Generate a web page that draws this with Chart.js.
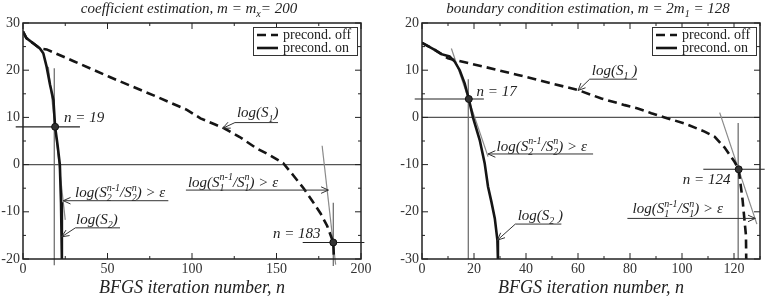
<!DOCTYPE html>
<html>
<head>
<meta charset="utf-8">
<script src="https://cdn.jsdelivr.net/npm/chart.js@4.4.1/dist/chart.umd.min.js"></script>
<style>
  html, body { margin: 0; padding: 0; background: #fff; }
  #wrap { position: relative; width: 765px; height: 300px; }
  #leftBox { position: absolute; left: 0; top: 0; width: 383px; height: 300px; }
  #rightBox { position: absolute; left: 383px; top: 0; width: 382px; height: 300px; }
</style>
</head>
<body>
<div id="wrap">
  <div id="leftBox"><canvas id="leftChart" width="383" height="300"></canvas></div>
  <div id="rightBox"><canvas id="rightChart" width="382" height="300"></canvas></div>
</div>
<script>
"use strict";

// ---- left panel: coefficient estimation ----
const leftTitle = "coefficient estimation, m = m_{x}= 200";
const leftXTicks = [0, 50, 100, 150, 200];
const leftYTicks = [-20, -10, 0, 10, 20, 30];
const leftOffN = [0, 2, 6, 10, 14, 30, 51, 79, 97, 105, 113, 119, 128, 138, 146, 154, 160, 166, 171, 176, 180, 183.6, 184];
const leftOffV = [28.2, 26.8, 25.7, 24.6, 24.4, 21.9, 18.6, 14.4, 11.6, 9.8, 8.6, 7.7, 5.9, 3.5, 2.0, 0.3, -2.3, -5, -7.6, -10.3, -13, -16.5, -20];
const leftOnN = [0, 2, 6, 10, 12, 14, 16, 18, 19, 20.5, 21.8, 22.5, 23, 23];
const leftOnV = [28.2, 26.8, 25.7, 24.6, 23.6, 20.7, 16.9, 13.7, 8, 4, 0, -8, -15, -20];
const leftStopN = [19, 183.6];
const leftStopV = [8, -16.5];
const leftStopLabels = ["n = 19", "n = 183"];
const leftTangents = [[15, 20.7, 25, -11.7], [177, 4, 185, -21.2]];
const leftVerticals = [[18.5, 20.4, -21.3], [183.6, -8.1, -21.5]];
const leftHorizontals = [[8, -4.3, 33.7], [-16.5, 165.5, 202]];

// ---- right panel: boundary condition estimation ----
const rightTitle = "boundary condition estimation, m = 2m_{1} = 128";
const rightXTicks = [0, 20, 40, 60, 80, 100, 120];
const rightXMax = 130;
const rightYTicks = [-30, -20, -10, 0, 10, 20];
const rightOffN = [0, 4.9, 7.5, 10, 24.1, 36.9, 49.8, 60, 69, 78, 83, 88.2, 93.3, 101, 108.7, 112.6, 116.4, 120.2, 121.8, 123.3, 124.6, 124.7];
const rightOffV = [15.8, 14.3, 13.4, 12.5, 10.7, 9.0, 7.2, 5.8, 4.0, 2.6, 1.9, 0.9, 0, -1.3, -3, -4.1, -6.4, -9.4, -11, -17.5, -25, -30];
const rightOnN = [0, 4.9, 7.5, 10.6, 12.6, 14.5, 16.4, 18, 19.6, 22.2, 24.1, 25.4, 26.7, 28, 29, 29.2];
const rightOnV = [15.8, 14.3, 13.4, 12.9, 11.8, 10, 7.2, 3.9, 0, -4.8, -9.7, -14.7, -17.9, -21.4, -26, -30];
const rightStopN = [18, 121.8];
const rightStopV = [3.9, -11];
const rightStopLabels = ["n = 17", "n = 124"];
const rightTangents = [[11.3, 14.6, 25.4, -8.3], [114.5, 1, 128.8, -22.6]];
const rightVerticals = [[17.8, 8.1, -30], [121.6, -1.2, -30]];
const rightHorizontals = [[3.9, -2.8, 23.8], [-11, 108.2, 131.8]];

const seriesLabels = ["precond. off", "precond. on"];
const xAxisTitle = "BFGS iteration number, n";

// text notes: [text, n, v] and arrow paths in data units (head at last point)
const leftNotes = [
  ["log(S_{1})", 126.6, 10.0, [[150.9, 8.9], [125.4, 8.9], [118.2, 7.7]]],
  ["log(S_{1}^{n-1}/S_{1}^{n}) > ε", 97.6, -4.7, [[96.4, -5.4], [180.7, -5.4]]],
  ["log(S_{2}^{n-1}/S_{2}^{n}) > ε", 30.8, -6.9, [[86, -7.65], [23.8, -7.65]]],
  ["log(S_{2})", 31.4, -12.6, [[57.4, -13.4], [31, -13.4], [22.9, -15.3]]],
  [leftStopLabels[0], 24.3, 9.1, null],
  [leftStopLabels[1], 147.9, -15.6, null]
];
const rightNotes = [
  ["log(S_{1} )", 65.3, 9.0, [[82.7, 8.1], [64.5, 8.1], [60, 5.7]]],
  ["log(S_{2}^{n-1}/S_{2}^{n}) > ε", 28.7, -7.05, [[65.8, -7.75], [25.4, -7.75]]],
  ["log(S_{2} )", 36.8, -21.7, [[53.6, -22.6], [35.9, -22.6], [29, -26]]],
  ["log(S_{1}^{n-1}/S_{1}^{n}) > ε", 81, -20.3, [[79, -21.4], [128.2, -21.4]]],
  [rightStopLabels[0], 21, 4.5, null],
  [rightStopLabels[1], 100.3, -14.2, null]
];

const serif = '"Liberation Serif", "Times New Roman", serif';

function xy(ns, vs) {
  return ns.map((n, i) => ({ x: n, y: vs[i] }));
}

function parseRich(str) {
  const parts = [];
  const re = /([_^])\{([^}]*)\}/g;
  let last = 0;
  let m;

  while ((m = re.exec(str))) {
    if (m.index > last) parts.push({ t: str.slice(last, m.index), k: "n" });
    parts.push({ t: m[2], k: m[1] === "_" ? "sub" : "sup" });
    last = re.lastIndex;
  }
  if (last < str.length) parts.push({ t: str.slice(last), k: "n" });

  return parts;
}

function drawRich(ctx, str, x, y, size, align) {
  const parts = parseRich(str);
  const big = "italic " + size + "px " + serif;
  const small = "italic " + Math.round(size * 0.66) + "px " + serif;
  const items = [];
  let cx = 0;

  for (let i = 0; i < parts.length; i++) {
    const p = parts[i];
    const font = p.k === "n" ? big : small;
    ctx.font = font;
    const w = ctx.measureText(p.t).width;
    const dy = p.k === "sub" ? size * 0.28 : p.k === "sup" ? -size * 0.42 : 0;
    const next = parts[i + 1];

    items.push({ t: p.t, font, x: cx, dy });
    if (p.k === "sub" && next && next.k === "sup") {
      ctx.font = small;
      const w2 = ctx.measureText(next.t).width;
      items.push({ t: next.t, font: small, x: cx, dy: -size * 0.42 });
      cx += Math.max(w, w2);
      i++;
    } else {
      cx += w;
    }
  }

  const x0 = align === "center" ? x - cx / 2 : x;
  ctx.textAlign = "left";
  ctx.textBaseline = "alphabetic";
  for (const it of items) {
    ctx.font = it.font;
    ctx.fillText(it.t, x0 + it.x, y + it.dy);
  }
}

function drawArrow(ctx, pts) {
  ctx.beginPath();
  ctx.moveTo(pts[0][0], pts[0][1]);
  for (let i = 1; i < pts.length; i++) ctx.lineTo(pts[i][0], pts[i][1]);
  ctx.stroke();

  if (pts.length < 2) return;
  const [ax, ay] = pts[pts.length - 1];
  const [bx, by] = pts[pts.length - 2];
  const ang = Math.atan2(ay - by, ax - bx);
  const len = 8;
  const spread = 0.42;

  ctx.beginPath();
  ctx.moveTo(ax - len * Math.cos(ang - spread), ay - len * Math.sin(ang - spread));
  ctx.lineTo(ax, ay);
  ctx.lineTo(ax - len * Math.cos(ang + spread), ay - len * Math.sin(ang + spread));
  ctx.stroke();
}

function decorPlugin(panel) {
  return {
    id: "decor",
    afterDraw(chart) {
      const ctx = chart.ctx;
      const area = chart.chartArea;
      const xs = chart.scales.x;
      const ys = chart.scales.y;

      ctx.save();

      // frame
      ctx.strokeStyle = "#222";
      ctx.lineWidth = 1.5;
      ctx.strokeRect(area.left, area.top, area.right - area.left, area.bottom - area.top);

      // inward tick marks on all four sides
      ctx.lineWidth = 1;
      ctx.beginPath();
      for (let v = xs.min; v <= xs.max + 1e-9; v += panel.xMinor) {
        const px = xs.getPixelForValue(v);
        const len = Math.abs(v % panel.xMajor) < 1e-9 ? 6 : 3;
        ctx.moveTo(px, area.bottom);
        ctx.lineTo(px, area.bottom - len);
        ctx.moveTo(px, area.top);
        ctx.lineTo(px, area.top + len);
      }
      for (let v = ys.min; v <= ys.max + 1e-9; v += panel.yMinor) {
        const py = ys.getPixelForValue(v);
        const len = Math.abs(v % panel.yMajor) < 1e-9 ? 6 : 3;
        ctx.moveTo(area.left, py);
        ctx.lineTo(area.left + len, py);
        ctx.moveTo(area.right, py);
        ctx.lineTo(area.right - len, py);
      }
      ctx.stroke();

      // title
      ctx.fillStyle = "#222";
      drawRich(ctx, panel.title, (area.left + area.right) / 2 - 3, 13, 15, "center");

      // notes with arrows
      ctx.strokeStyle = "#333";
      ctx.lineWidth = 1;
      for (const [text, n, v, path] of panel.notes) {
        drawRich(ctx, text, xs.getPixelForValue(n), ys.getPixelForValue(v), 15, "left");
        if (path) drawArrow(ctx, path.map(p => [xs.getPixelForValue(p[0]), ys.getPixelForValue(p[1])]));
      }

      // legend box
      const bw = 104;
      const bh = 28;
      const bx = area.right - 4 - bw;
      const by = area.top + 4;
      ctx.fillStyle = "#fff";
      ctx.fillRect(bx, by, bw, bh);
      ctx.strokeStyle = "#333";
      ctx.lineWidth = 1;
      ctx.strokeRect(bx + 0.5, by + 0.5, bw, bh);
      panel.legendSets.forEach((idx, row) => {
        const ds = chart.data.datasets[idx];
        const ly = by + 8 + row * 13;
        ctx.strokeStyle = ds.borderColor;
        ctx.lineWidth = 2.6;
        ctx.setLineDash(ds.borderDash || []);
        ctx.beginPath();
        ctx.moveTo(bx + 4, ly);
        ctx.lineTo(bx + 25, ly);
        ctx.stroke();
        ctx.setLineDash([]);
        ctx.fillStyle = "#222";
        ctx.font = "14px " + serif;
        ctx.textAlign = "left";
        ctx.textBaseline = "middle";
        ctx.fillText(ds.label, bx + 30, ly + 0.5);
      });

      ctx.restore();
    }
  };
}

function buildDatasets(p) {
  const sets = [];

  sets.push({
    data: xy(p.stopN, p.stopV), showLine: false, pointRadius: 3.5,
    pointBackgroundColor: "#333", pointBorderColor: "#111", clip: false
  });
  sets.push({
    label: seriesLabels[0], data: xy(p.offN, p.offV), showLine: true, pointRadius: 0,
    borderColor: "#151515", borderWidth: 2.6, borderDash: [9, 5]
  });
  sets.push({
    label: seriesLabels[1], data: xy(p.onN, p.onV), showLine: true, pointRadius: 0,
    borderColor: "#151515", borderWidth: 2.6
  });
  for (const t of p.tangents) {
    sets.push({
      data: [{ x: t[0], y: t[1] }, { x: t[2], y: t[3] }], showLine: true, pointRadius: 0,
      borderColor: "#8a8a8a", borderWidth: 1.2, clip: false
    });
  }
  for (const vl of p.verticals) {
    sets.push({
      data: [{ x: vl[0], y: vl[1] }, { x: vl[0], y: vl[2] }], showLine: true, pointRadius: 0,
      borderColor: "#666", borderWidth: 1.2, clip: false
    });
  }
  for (const hl of p.horizontals) {
    sets.push({
      data: [{ x: hl[1], y: hl[0] }, { x: hl[2], y: hl[0] }], showLine: true, pointRadius: 0,
      borderColor: "#222", borderWidth: 1.1, clip: false
    });
  }
  sets.push({
    data: [{ x: p.xMin, y: 0 }, { x: p.xMax, y: 0 }], showLine: true, pointRadius: 0,
    borderColor: "#555", borderWidth: 1.2
  });

  return sets;
}

function makePanel(canvasId, p) {
  const tickFont = { family: serif, size: 14 };

  return new Chart(document.getElementById(canvasId), {
    type: "scatter",
    data: { datasets: buildDatasets(p) },
    options: {
      responsive: false,
      animation: false,
      events: [],
      layout: { padding: { left: 0, right: p.padRight, top: 23, bottom: 0 } },
      plugins: { legend: { display: false }, tooltip: { enabled: false }, title: { display: false } },
      scales: {
        x: {
          type: "linear", min: p.xMin, max: p.xMax,
          ticks: { stepSize: p.xMajor, includeBounds: false, font: tickFont, color: "#333", padding: 2, maxRotation: 0, autoSkip: false },
          grid: { display: false, drawTicks: false },
          border: { display: false },
          title: {
            display: true, text: xAxisTitle, color: "#222",
            font: { family: serif, size: 18, style: "italic" }, padding: { top: 0, bottom: 1 }
          },
          afterFit: scale => { scale.height = 41; }
        },
        y: {
          type: "linear", min: p.yMin, max: p.yMax,
          ticks: { stepSize: p.yMajor, font: tickFont, color: "#333", padding: 3 },
          grid: { display: false, drawTicks: false },
          border: { display: false },
          afterFit: scale => { scale.width = p.yWidth; }
        }
      }
    },
    plugins: [decorPlugin(p)]
  });
}

makePanel("leftChart", {
  title: leftTitle, notes: leftNotes, legendSets: [1, 2],
  offN: leftOffN, offV: leftOffV, onN: leftOnN, onV: leftOnV,
  stopN: leftStopN, stopV: leftStopV,
  tangents: leftTangents, verticals: leftVerticals, horizontals: leftHorizontals,
  xMin: leftXTicks[0], xMax: leftXTicks[leftXTicks.length - 1], xMajor: leftXTicks[1] - leftXTicks[0], xMinor: 25,
  yMin: leftYTicks[0], yMax: leftYTicks[leftYTicks.length - 1], yMajor: leftYTicks[1] - leftYTicks[0], yMinor: 5,
  yWidth: 23, padRight: 22
});

makePanel("rightChart", {
  title: rightTitle, notes: rightNotes, legendSets: [1, 2],
  offN: rightOffN, offV: rightOffV, onN: rightOnN, onV: rightOnV,
  stopN: rightStopN, stopV: rightStopV,
  tangents: rightTangents, verticals: rightVerticals, horizontals: rightHorizontals,
  xMin: rightXTicks[0], xMax: rightXMax, xMajor: rightXTicks[1] - rightXTicks[0], xMinor: 10,
  yMin: rightYTicks[0], yMax: rightYTicks[rightYTicks.length - 1], yMajor: rightYTicks[1] - rightYTicks[0], yMinor: 5,
  yWidth: 39, padRight: 5
});
</script>
</body>
</html>
